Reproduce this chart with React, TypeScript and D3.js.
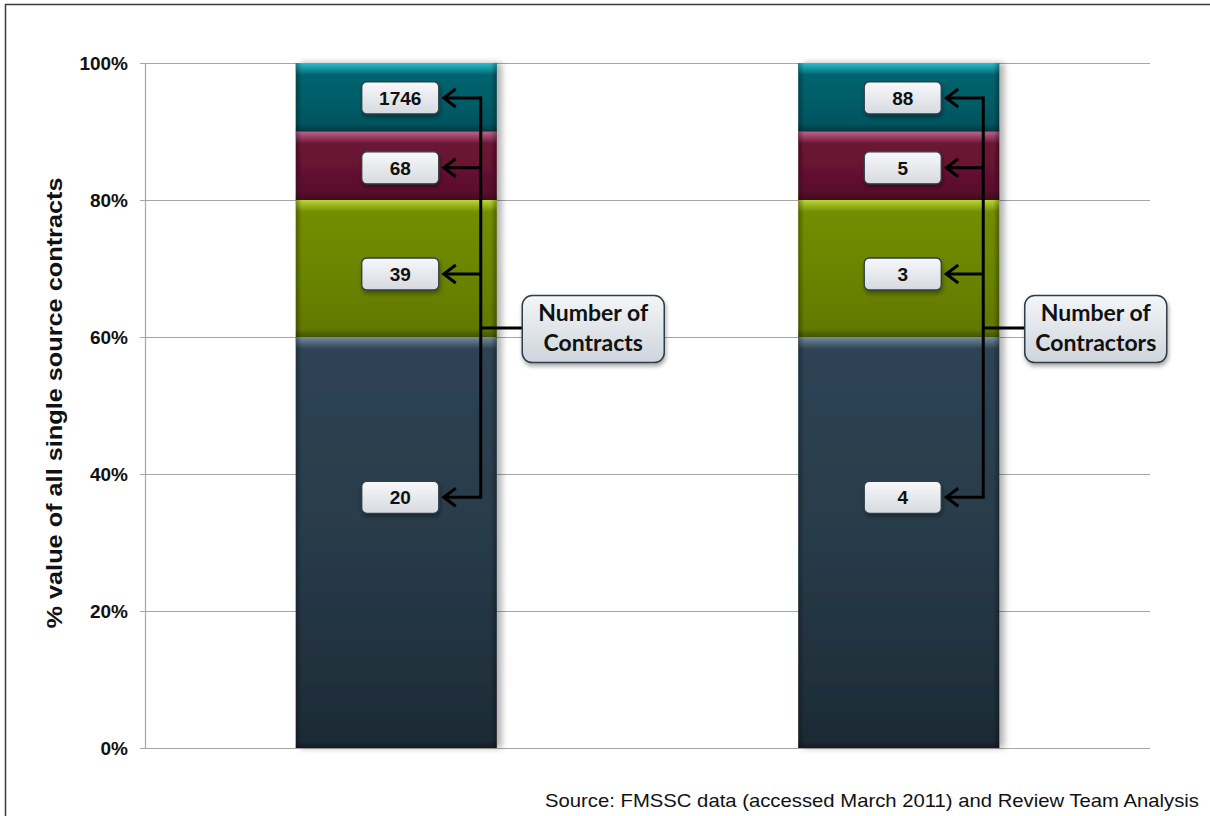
import React from "react";
import * as d3 from "d3";

const categories = ["Contracts", "Contractors"];
const calloutTitles = [
  ["Number of", "Contracts"],
  ["Number of", "Contractors"],
];
const seriesKeys = ["base", "green", "maroon", "teal"];
const baseShare = [60, 60];
const greenShare = [20, 20];
const maroonShare = [10, 10];
const tealShare = [10, 10];
const contractCounts = ["20", "39", "68", "1746"];
const contractorCounts = ["4", "3", "5", "88"];
const labelAnchorPct = [36.6, 69.2, 84.7, 94.9];
const calloutAnchorPct = 61.3;
const yTicks = [0, 20, 40, 60, 80, 100];
const sourceText = "Source: FMSSC data (accessed March 2011) and Review Team Analysis";
const yTitle = "% value of all single source contracts";

const W = 1210;
const H = 816;

const segColors: Record<string, { top: string; mid: string; bot: string; hi: string }> = {
  base: { top: "#30475a", mid: "#2a3e4d", bot: "#1e2c37", hi: "#7a92a2" },
  green: { top: "#7b9600", mid: "#728c00", bot: "#657d00", hi: "#c4e03a" },
  maroon: { top: "#741739", mid: "#6b1334", bot: "#5b0f2c", hi: "#c86890" },
  teal: { top: "#006c78", mid: "#00636e", bot: "#005661", hi: "#28c8d8" },
};

export default function App() {
  const x = d3
    .scaleBand<string>()
    .domain(categories)
    .range([145, 1150])
    .paddingInner(0.6)
    .paddingOuter(0.3);
  const y = d3.scaleLinear().domain([0, 100]).range([748, 63]);

  const table = categories.map((c, i) => ({
    cat: c,
    base: baseShare[i],
    green: greenShare[i],
    maroon: maroonShare[i],
    teal: tealShare[i],
  }));
  const stacked = d3.stack<any>().keys(seriesKeys)(table);
  const labelSets = [contractCounts, contractorCounts];
  const bw = x.bandwidth();

  const boxW = 77;
  const boxH = 32;

  return (
    <svg
      width={W}
      height={H}
      style={{ position: "absolute", left: 0, top: 0, background: "#fff" }}
      fontFamily="'Liberation Sans', Arial, sans-serif"
    >
      <defs>
        {seriesKeys.map((k) => (
          <linearGradient key={k} id={`g-${k}`} x1="0" y1="0" x2="0" y2="1">
            <stop offset="0" stopColor={segColors[k].top} />
            <stop offset="0.5" stopColor={segColors[k].mid} />
            <stop offset="1" stopColor={segColors[k].bot} />
          </linearGradient>
        ))}
        {seriesKeys.map((k) => (
          <linearGradient key={k} id={`h-${k}`} x1="0" y1="0" x2="0" y2="1">
            <stop offset="0" stopColor={segColors[k].hi} stopOpacity="1" />
            <stop offset="0.4" stopColor={segColors[k].hi} stopOpacity="0.6" />
            <stop offset="1" stopColor={segColors[k].hi} stopOpacity="0" />
          </linearGradient>
        ))}
        <linearGradient id="edges" x1="0" y1="0" x2="1" y2="0">
          <stop offset="0" stopColor="#000" stopOpacity="0.35" />
          <stop offset="0.03" stopColor="#000" stopOpacity="0.05" />
          <stop offset="0.97" stopColor="#000" stopOpacity="0.05" />
          <stop offset="1" stopColor="#000" stopOpacity="0.35" />
        </linearGradient>
        <linearGradient id="botEdge" x1="0" y1="0" x2="0" y2="1">
          <stop offset="0" stopColor="#000" stopOpacity="0" />
          <stop offset="1" stopColor="#000" stopOpacity="0.3" />
        </linearGradient>
        <linearGradient id="boxFill" x1="0" y1="0" x2="0" y2="1">
          <stop offset="0" stopColor="#f7f8fa" />
          <stop offset="1" stopColor="#d6dadf" />
        </linearGradient>
        <linearGradient id="calloutFill" x1="0" y1="0" x2="0" y2="1">
          <stop offset="0" stopColor="#f4f6f8" />
          <stop offset="1" stopColor="#cdd4db" />
        </linearGradient>
        <filter id="barShadow" x="-10%" y="-5%" width="125%" height="110%">
          <feDropShadow dx="5" dy="0" stdDeviation="3" floodColor="#000" floodOpacity="0.3" />
        </filter>
        <filter id="boxShadow" x="-20%" y="-20%" width="140%" height="160%">
          <feDropShadow dx="1" dy="3" stdDeviation="2" floodColor="#000" floodOpacity="0.35" />
        </filter>
      </defs>

      {/* outer border */}
      <rect x={5.5} y={4.5} width={1230} height={840} fill="none" stroke="#3c3c3c" strokeWidth={1.5} />

      {/* gridlines */}
      {yTicks.map((t) => (
        <g key={t}>
          <line x1={140} x2={1150} y1={y(t) + 0.5} y2={y(t) + 0.5} stroke="#a6a6a6" strokeWidth={1.2} />
          <text
            x={128}
            y={y(t)}
            dy="0.36em"
            textAnchor="end"
            fontWeight="bold"
            fontSize={19}
            fill="#111"
          >
            {t}%
          </text>
        </g>
      ))}
      <line x1={145.5} x2={145.5} y1={y(100)} y2={y(0)} stroke="#a6a6a6" strokeWidth={1.2} />

      {/* y title */}
      <text
        transform={`translate(62,403) rotate(-90)`}
        textAnchor="middle"
        fontWeight="bold"
        fontSize={22}
        textLength={451}
        lengthAdjust="spacingAndGlyphs"
        fill="#111"
      >
        {yTitle}
      </text>

      {/* bars */}
      {categories.map((c, ci) => (
        <g key={c} filter="url(#barShadow)">
          {stacked.map((s) => {
            const d = s[ci];
            const x0 = x(c)!;
            const yTop = y(d[1]);
            const yBot = y(d[0]);
            const h = yBot - yTop;
            const k = s.key;
            return (
              <g key={k}>
                <rect x={x0} y={yTop} width={bw} height={h} fill={`url(#g-${k})`} />
                <rect x={x0} y={yTop} width={bw} height={Math.min(12, h)} fill={`url(#h-${k})`} />
                <rect x={x0} y={yBot - 8} width={bw} height={8} fill="url(#botEdge)" />
                <rect x={x0} y={yTop} width={bw} height={h} fill="url(#edges)" />
              </g>
            );
          })}
        </g>
      ))}

      {/* labels, arrows, callouts */}
      {categories.map((c, ci) => {
        const cx = x(c)! + bw / 2;
        const boxCx = cx + 4;
        const vx = cx + 84.5;
        const tipX = boxCx + boxW / 2 + 4;
        const labels = labelSets[ci];
        const ys = labelAnchorPct.map((p) => y(p));
        const calY = y(calloutAnchorPct);
        const calX = cx + 126;
        const calW = 142;
        const calH = 67;
        return (
          <g key={c}>
            <line
              x1={vx}
              x2={vx}
              y1={d3.min(ys)! - 1.5}
              y2={d3.max(ys)! + 1.5}
              stroke="#000"
              strokeWidth={3}
            />
            {ys.map((yy, i) => (
              <g key={i}>
                <line x1={vx} x2={tipX + 1} y1={yy} y2={yy} stroke="#000" strokeWidth={3} />
                <polyline
                  points={`${tipX + 13},${yy - 9} ${tipX + 1},${yy} ${tipX + 13},${yy + 9}`}
                  fill="none"
                  stroke="#000"
                  strokeWidth={3}
                />
                <rect
                  x={boxCx - boxW / 2}
                  y={yy - boxH / 2}
                  width={boxW}
                  height={boxH}
                  rx={5}
                  fill="url(#boxFill)"
                  stroke="#2e3d48"
                  strokeWidth={1.3}
                  filter="url(#boxShadow)"
                />
                <text
                  x={boxCx}
                  y={yy}
                  dy="0.36em"
                  textAnchor="middle"
                  fontWeight="bold"
                  fontSize={19}
                  fill="#111"
                >
                  {labels[i]}
                </text>
              </g>
            ))}
            <line x1={vx} x2={calX} y1={calY} y2={calY} stroke="#000" strokeWidth={3} />
            <rect
              x={calX}
              y={calY - calH / 2 + 1}
              width={calW}
              height={calH}
              rx={10}
              fill="url(#calloutFill)"
              stroke="#2e3d48"
              strokeWidth={1.5}
              filter="url(#boxShadow)"
            />
            {calloutTitles[ci].map((line, li) => (
              <text
                key={li}
                x={calX + calW / 2}
                y={calY - 15 + li * 30}
                dy="0.35em"
                textAnchor="middle"
                fontFamily="Lato, 'Open Sans', sans-serif"
                fontWeight="bold"
                fontSize={23}
                fill="#111"
              >
                {line}
              </text>
            ))}
          </g>
        );
      })}

      {/* source */}
      <text
        x={1199}
        y={800}
        dy="0.35em"
        textAnchor="end"
        fontSize={19}
        textLength={654}
        lengthAdjust="spacingAndGlyphs"
        fill="#111"
      >
        {sourceText}
      </text>
    </svg>
  );
}
